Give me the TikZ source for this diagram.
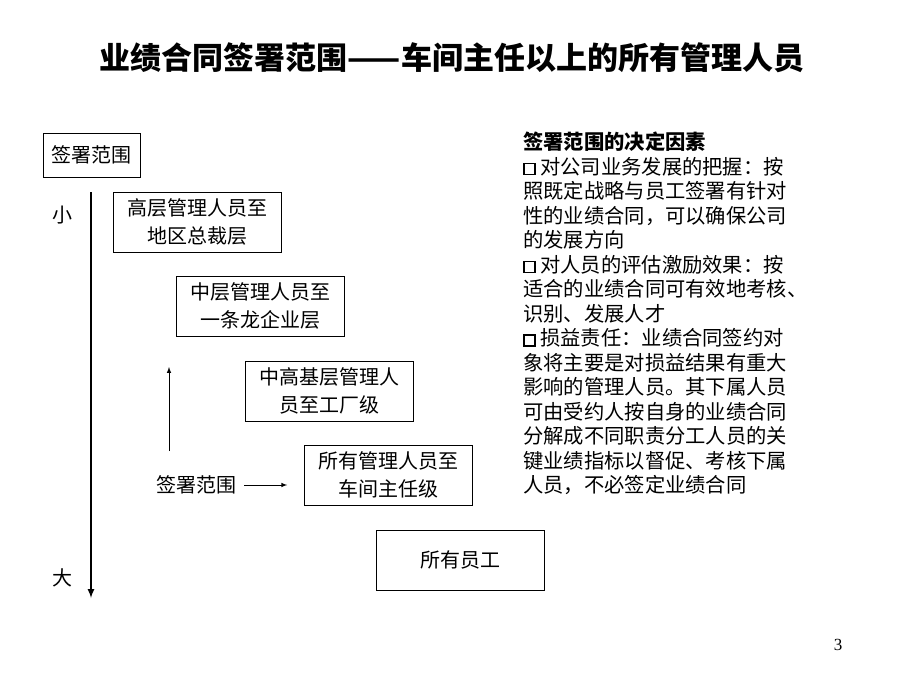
\documentclass[tikz,border=0pt]{standalone}
\usepackage{fontspec}
\setmainfont{Noto Sans CJK SC}
\newfontfamily\numfont{Liberation Serif}
\usetikzlibrary{positioning}
\tikzset{
  levelbox/.style={draw, line width=0.8pt, minimum width=168pt, minimum height=60pt, align=center, font=\fontsize{20}{28}\selectfont},
  label/.style={font=\fontsize{20}{24}\selectfont, inner sep=0pt},
}
\newcommand{\qbox}{\tikz[baseline=0pt]\draw[line width=1.5pt] (0,0) rectangle (11pt,11pt);}
\begin{document}
\begin{tikzpicture}[x=1pt,y=-1pt]
\useasboundingbox (0,0) rectangle (920,690);
% title
\node[font=\fontsize{31}{33}\selectfont\bfseries] (title) at (452,58) {业绩合同签署范围——车间主任以上的所有管理人员};
% scale
\node[draw, line width=0.8pt, minimum width=97pt, minimum height=44pt, label] (scope) at (91.5,155) {签署范围};
\coordinate (top) at (91,192);
\coordinate (bottom) at (91,598);
\draw[-latex, line width=2pt] (top) -- (bottom);
\node[label] (small) at (62,215) {小};
\node[label] (big) at (62,578) {大};
% levels
\node[levelbox] (high) at (197,222) {高层管理人员至\\地区总裁层};
\node[levelbox] (mid) at (260,306) {中层管理人员至\\一条龙企业层};
\node[levelbox] (factory) at (329,391) {中高基层管理人\\员至工厂级};
\node[levelbox] (shop) at (388,475) {所有管理人员至\\车间主任级};
\node[levelbox] (all) at (460.5,560) {所有员工};
% signing arrows
\node[label] (sign) at (196,485) {签署范围};
\coordinate (upstart) at (169,451);
\coordinate (upend) at (169,367);
\draw[-latex, line width=1pt] (upstart) -- (upend);
\draw[-latex, line width=1pt] (sign.east) ++(8,0) coordinate (s0) -- ++(43,0) coordinate (s1);
% factors
\node[label, anchor=north west, align=left, font=\fontsize{20.3}{24.5}\selectfont] (factors) at (523,132) {%
\textbf{签署范围的决定因素}\\
\qbox\ 对公司业务发展的把握：按\\
照既定战略与员工签署有针对\\
性的业绩合同，可以确保公司\\
的发展方向\\
\qbox\ 对人员的评估激励效果：按\\
适合的业绩合同可有效地考核、\\
识别、发展人才\\
\qbox\ 损益责任：业绩合同签约对\\
象将主要是对损益结果有重大\\
影响的管理人员。其下属人员\\
可由受约人按自身的业绩合同\\
分解成不同职责分工人员的关\\
键业绩指标以督促、考核下属\\
人员，不必签定业绩合同};
\node[font=\numfont\fontsize{17}{18}\selectfont] (page) at (838,645) {3};
\end{tikzpicture}
\end{document}
